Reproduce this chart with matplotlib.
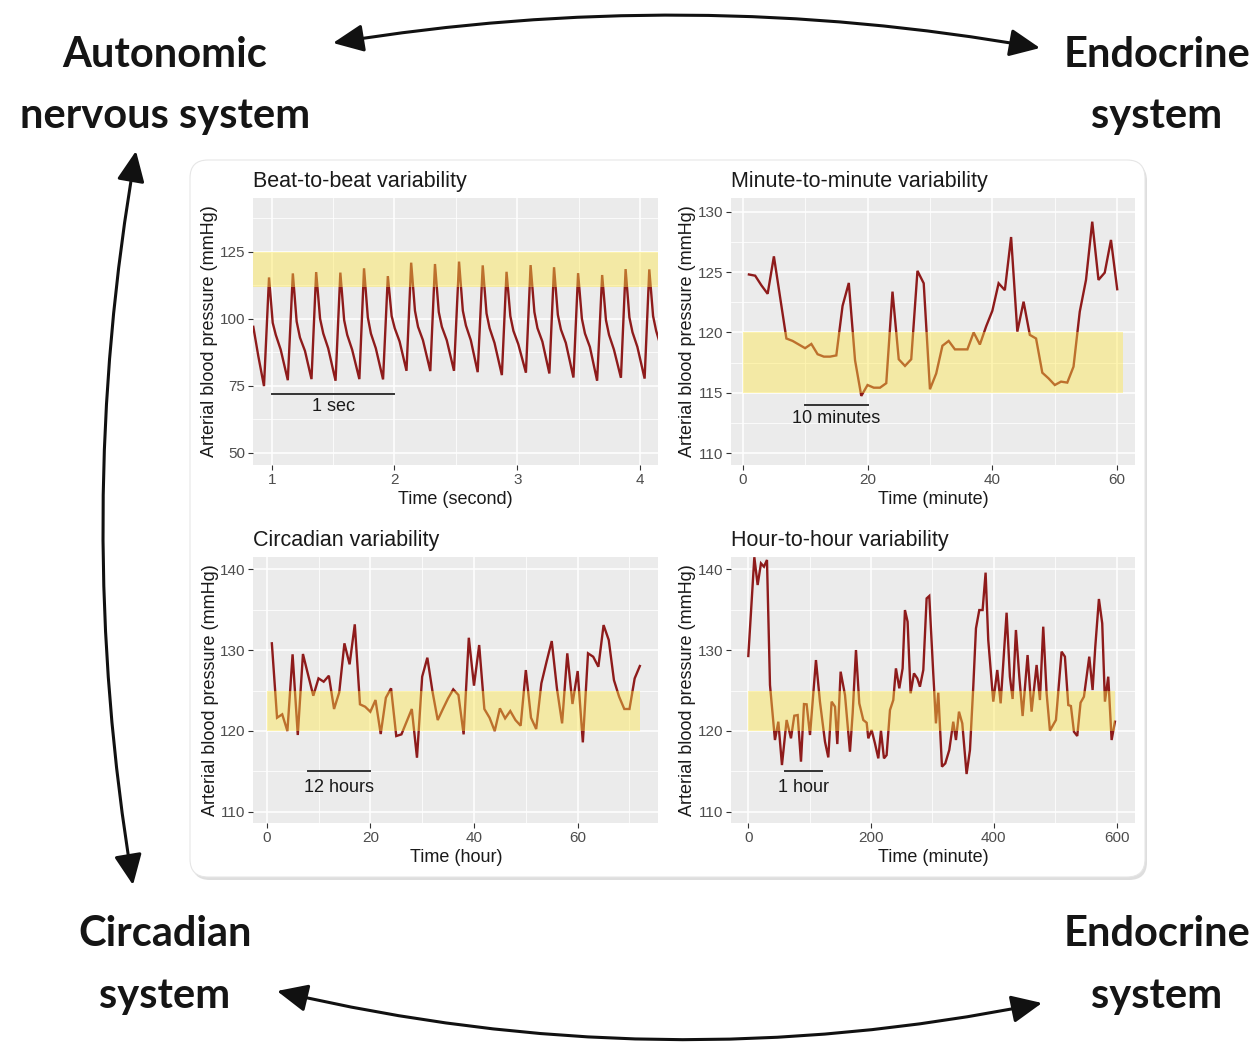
import matplotlib
matplotlib.use('Agg')
import matplotlib.pyplot as plt
import matplotlib.patches as patches
from matplotlib.ticker import MultipleLocator

# ---- data ----
# beat-to-beat (seconds, mmHg)
bb_t = [0.850, 0.891,
        0.937, 0.978, 1.008, 1.033, 1.073,
        1.131, 1.172, 1.203, 1.230, 1.271,
        1.324, 1.362, 1.394, 1.420, 1.460,
        1.520, 1.559, 1.590, 1.615, 1.655,
        1.714, 1.752, 1.783, 1.808, 1.848,
        1.907, 1.946, 1.977, 2.002, 2.042,
        2.098, 2.136, 2.167, 2.192, 2.232,
        2.292, 2.330, 2.361, 2.386, 2.426,
        2.485, 2.526, 2.557, 2.582, 2.622,
        2.678, 2.719, 2.750, 2.775, 2.815,
        2.875, 2.913, 2.944, 2.969, 3.009,
        3.071, 3.109, 3.140, 3.165, 3.205,
        3.262, 3.300, 3.331, 3.356, 3.396,
        3.458, 3.496, 3.527, 3.552, 3.592,
        3.651, 3.692, 3.723, 3.748, 3.788,
        3.845, 3.883, 3.914, 3.939, 3.979,
        4.038, 4.076, 4.107, 4.132, 4.161]
bb_bp = [97.0, 86.0,
         74.9, 115.4, 98.5, 94.0, 88.5,
         77.1, 116.9, 99.0, 93.0, 88.0,
         77.5, 117.4, 100.0, 94.5, 89.0,
         76.9, 117.2, 99.5, 94.0, 88.5,
         77.5, 118.8, 100.5, 94.5, 89.0,
         77.4, 115.9, 101.0, 96.5, 91.5,
         80.6, 120.9, 103.0, 97.0, 92.0,
         80.5, 120.4, 102.5, 97.0, 92.0,
         80.6, 121.3, 103.0, 97.5, 92.0,
         80.1, 119.9, 102.0, 96.5, 91.0,
         79.0, 117.5, 101.0, 95.5, 90.5,
         79.9, 120.0, 102.5, 96.5, 91.5,
         79.6, 119.2, 101.5, 96.0, 91.0,
         78.1, 117.0, 100.0, 94.5, 89.5,
         76.9, 116.3, 99.5, 94.0, 88.5,
         78.0, 118.5, 100.5, 95.0, 89.5,
         77.7, 118.4, 101.0, 95.5, 91.0]

# minute-to-minute (minute, mmHg)
mm_t = list(range(1, 61))
mm_bp = [124.8, 124.7, 123.9, 123.2, 126.3, 122.9, 119.5, 119.3, 119.0, 118.7,
         119.05, 118.2, 118.0, 118.0, 118.1, 122.2, 124.1, 117.7, 114.75, 115.65,
         115.43, 115.43, 115.8, 123.38, 117.78, 117.23, 117.78, 125.1, 124.07, 115.3,
         116.6, 118.9, 119.3, 118.6, 118.6, 118.6, 120.0, 119.0, 120.5, 121.8,
         124.07, 123.5, 127.9, 120.07, 122.55, 119.8, 119.5, 116.67, 116.2, 115.65,
         115.93, 115.85, 117.17, 121.72, 124.35, 129.17, 124.35, 124.95, 127.66, 123.58]

# circadian (hour, mmHg)
cd_t = list(range(1, 73))
cd_bp = [130.84, 121.63, 122.05, 119.98, 129.48, 119.49, 129.52, 126.92, 124.35, 126.5,
         126.09, 126.83, 122.71, 124.77, 130.84, 128.24, 133.19, 123.29, 122.99, 122.37,
         123.82, 119.61, 124.11, 125.27, 119.36, 119.57, 121.14, 122.71, 116.68, 126.71,
         129.06, 124.85, 121.34, 122.71, 124.03, 125.14, 124.44, 119.57, 131.53, 125.6,
         130.63, 122.71, 121.63, 119.98, 122.79, 121.55, 122.46, 121.34, 120.64, 127.53,
         121.63, 120.23, 125.89, 128.56, 131.12, 125.27, 120.93, 129.6, 123.33, 127.41,
         118.58, 129.6, 129.18, 127.94, 133.1, 131.25, 126.29, 124.23, 122.71, 122.71,
         126.5, 128.03]

# hour-to-hour (minute, mmHg)
hh_t = [0, 9.8, 15.2, 20.6, 25.5, 30.4, 35.3, 43.4, 48.9, 54.8,
        62.4, 69.5, 74.9, 80.4, 85.8, 90.7, 95.0, 100.5, 110.2, 116.7,
        124.9, 130.3, 135.7, 141.2, 145.0, 150.4, 157.5, 165.6, 170.0, 175.4,
        180.8, 187.3, 192.8, 195.5, 200.9, 206.3, 211.8, 216.1, 221.0, 225.3,
        230.8, 236.2, 240.5, 246.0, 251.4, 255.2, 259.5, 264.4, 269.9, 275.3,
        279.6, 285.1, 290.5, 294.8, 301.3, 305.7, 309.5, 315.5, 320.9, 327.4,
        333.9, 338.3, 343.2, 348.6, 355.6, 361.1, 366.5, 370.9, 376.3, 381.7,
        386.6, 390.9, 399.1, 405.6, 411.1, 420.8, 426.2, 430.6, 436.0, 441.5,
        446.9, 455.0, 461.5, 469.7, 475.1, 480.5, 486.0, 491.4, 501.2, 510.4,
        515.8, 521.3, 525.6, 530.5, 535.9, 541.3, 546.8, 555.5, 560.9, 565.3,
        571.2, 576.6, 581.0, 586.4, 591.9, 597.3]
hh_bp = [129.27, 141.5, 138.06, 140.74, 140.33, 141.16, 125.68, 118.87, 121.14, 115.77,
         121.35, 119.08, 121.88, 121.96, 116.19, 123.32, 123.29, 119.49, 128.77, 123.62,
         118.67, 116.72, 123.62, 123.0, 118.37, 127.33, 124.44, 117.42, 122.17, 130.01,
         123.41, 121.35, 121.01, 119.08, 120.11, 118.46, 116.6, 120.03, 116.6, 117.0,
         122.58, 123.82, 127.74, 125.27, 127.74, 134.96, 133.52, 124.65, 127.12, 126.5,
         125.47, 127.54, 136.4, 136.7, 127.12, 120.93, 124.73, 115.57, 115.98, 117.63,
         121.14, 118.87, 122.38, 120.93, 114.66, 117.63, 125.47, 132.7, 134.96, 134.96,
         139.59, 131.25, 123.62, 127.54, 123.41, 134.63, 126.71, 123.95, 132.49, 126.71,
         121.84, 129.39, 122.38, 128.16, 123.82, 132.9, 124.65, 120.03, 121.35, 129.81,
         129.19, 123.2, 123.08, 119.9, 119.37, 123.49, 124.23, 129.19, 125.06, 130.43,
         136.33, 133.31, 123.62, 126.71, 118.87, 121.14]

titles = ['Beat-to-beat variability', 'Minute-to-minute variability',
          'Circadian variability', 'Hour-to-hour variability']
xlabels = ['Time (second)', 'Time (minute)', 'Time (hour)', 'Time (minute)']
band_lo = [112, 115, 120, 120]
band_hi = [125, 120, 125, 125]
band_x = [None, (0, 61), (0, 72), (0, 597)]
bar_x = [(1, 2), (10, 20), (8, 20), (60, 120)]
bar_y = [72, 114, 115, 115]
bar_text = ['1 sec', '10 minutes', '12 hours', '1 hour']

W, H = 1257, 1047
fig = plt.figure(figsize=(W / 100, H / 100), dpi=100)
fig.patch.set_facecolor('white')

# background layer in pixel coordinates
bg = fig.add_axes([0, 0, 1, 1])
bg.set_xlim(0, W)
bg.set_ylim(H, 0)
bg.axis('off')

shadow = patches.FancyBboxPatch((192, 163), 955, 717, boxstyle='round,pad=0,rounding_size=18',
                                fc='#dedede', ec='none', zorder=0)
bg.add_patch(shadow)
box = patches.FancyBboxPatch((190, 160), 955, 717, boxstyle='round,pad=0,rounding_size=18',
                             fc='white', ec='#e6e6e6', lw=0.8, zorder=1)
bg.add_patch(box)

corner = dict(fontsize=30, fontweight='bold', family='Lato', color='#151515',
              ha='center', va='baseline')
bg.text(165, 67, 'Autonomic', **corner)
bg.text(165, 128, 'nervous system', **corner)
bg.text(1157, 67, 'Endocrine', **corner)
bg.text(1157, 128, 'system', **corner)
bg.text(165, 946, 'Circadian', **corner)
bg.text(165, 1008, 'system', **corner)
bg.text(1157, 946, 'Endocrine', **corner)
bg.text(1157, 1008, 'system', **corner)

arrow_kw = dict(arrowstyle='<|-|>,head_length=1.1,head_width=0.5', mutation_scale=17,
                lw=2.2, color='#111111', shrinkA=0, shrinkB=0)
bg.add_patch(patches.FancyArrowPatch((333, 43), (1040, 48),
                                     connectionstyle='arc3,rad=-0.085', **arrow_kw))
bg.add_patch(patches.FancyArrowPatch((136, 151), (133, 885),
                                     connectionstyle='arc3,rad=0.085', **arrow_kw))
bg.add_patch(patches.FancyArrowPatch((277, 991), (1042, 1003),
                                     connectionstyle='arc3,rad=0.11', **arrow_kw))

# panel rectangles in pixels: left, top, right, bottom
boxes = [(252.7, 198, 658, 465), (730.7, 198, 1135, 465),
         (253.3, 557.3, 658.3, 823.3), (730.7, 557.3, 1135, 823.3)]
series = [(bb_t, bb_bp), (mm_t, mm_bp), (cd_t, cd_bp), (hh_t, hh_bp)]
xlims = [(0.845, 4.147), (-1.92, 62.85), (-2.58, 75.56), (-28.7, 630)]
ylims = [(45.5, 145), (109.03, 131.13), (108.56, 141.49), (108.56, 141.49)]
xmaj = [1, 20, 20, 200]
ymaj = [25, 5, 10, 10]
text_y = [67.3, 112.9, 113.0, 113.0]

for i in range(4):
    l, t, r, b = boxes[i]
    ax = fig.add_axes([l / W, (H - b) / H, (r - l) / W, (b - t) / H])
    ax.set_facecolor('#EBEBEB')
    ax.set_axisbelow(True)
    ax.set_xlim(*xlims[i])
    ax.set_ylim(*ylims[i])
    ax.xaxis.set_major_locator(MultipleLocator(xmaj[i]))
    ax.xaxis.set_minor_locator(MultipleLocator(xmaj[i] / 2))
    ax.yaxis.set_major_locator(MultipleLocator(ymaj[i]))
    ax.yaxis.set_minor_locator(MultipleLocator(ymaj[i] / 2))
    ax.grid(True, which='major', color='white', lw=1.1)
    ax.grid(True, which='minor', color='white', lw=0.55)
    for s in ax.spines.values():
        s.set_visible(False)
    ax.tick_params(which='major', length=3.5, width=0.8, color='#333333',
                   labelcolor='#4D4D4D', labelsize=11, pad=2)
    ax.tick_params(which='minor', length=0)
    for lab in ax.get_xticklabels() + ax.get_yticklabels():
        lab.set_family('Liberation Sans')

    x, y = series[i]
    ax.plot(x, y, color='#8E1B1B', lw=1.7, zorder=2, solid_joinstyle='miter')
    if band_x[i] is None:
        ax.axhspan(band_lo[i], band_hi[i], color='#FFE846', alpha=0.42, lw=0, zorder=3)
    else:
        ax.fill_between(band_x[i], band_lo[i], band_hi[i], color='#FFE846',
                        alpha=0.42, lw=0, zorder=3)

    ax.plot(bar_x[i], [bar_y[i], bar_y[i]], color='#333333', lw=1.4, zorder=4)
    ax.text(sum(bar_x[i]) / 2, text_y[i], bar_text[i], ha='center', va='center',
            fontsize=13, family='Liberation Sans', color='#1a1a1a', zorder=4)

    ax.set_title(titles[i], loc='left', fontsize=15.5, family='Liberation Sans',
                 color='#1a1a1a', pad=8)
    ax.set_xlabel(xlabels[i], fontsize=13, family='Liberation Sans', color='#1a1a1a',
                  labelpad=3)
    ax.set_ylabel('Arterial blood pressure (mmHg)', fontsize=13,
                  family='Liberation Sans', color='#1a1a1a', labelpad=1)

fig.savefig('out.png', dpi=100)
